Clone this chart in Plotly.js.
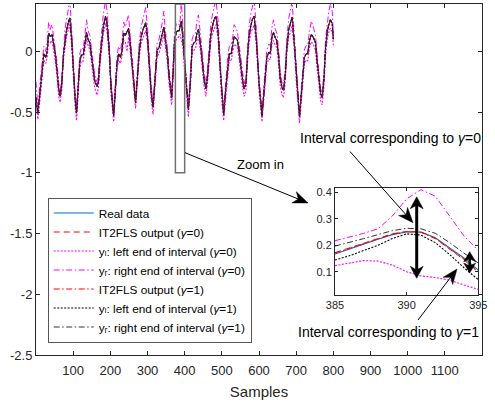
<!DOCTYPE html>
<html><head><meta charset="utf-8">
<script src="https://cdn.plot.ly/plotly-3.0.1.min.js"></script>
<style>html,body{margin:0;padding:0;background:#fff}#chart{width:495px;height:403px}</style>
</head><body><div id="chart"></div><script>
// ---- main view data (sample index) ----
const samples = [0,5,12,17,21,26,30,34,38,43,47,52,57,61,65,69,74,78,82,87,91,96,100,105,109,114,118,122,127,131,136,140,145,149,154,158,164,168,172,177,181,187,191,197,202,209,214,218,222,227,231,236,240,245,249,252,257,262,268,272,278,283,288,295,300,305,310,315,321,326,331,335,340,344,348,354,358,365,369,373,378,382,385,388,390,391,393,395,400,405,410,416,420,425,429,433,437,443,447,452,457,461,466,470,475,479,484,490,495,500,505,511,516,520,525,530,533,537,542,546,551,556,560,565,569,573,578,582,587,593,600,608,615,621,626,630,635,639,644,648,653,657,662,666,671,675,680,685,689,695,701,705,709,716,722,727,731,736,741,747,752,756,761,766,770,775,779,784,788,792,797,800];
const realData = [-0.38,-0.51,-0.30,-0.12,-0.02,-0.05,0.00,0.15,0.12,0.14,0.08,-0.02,-0.17,-0.31,-0.37,-0.28,-0.02,0.10,0.17,0.24,0.275,0.10,-0.14,-0.38,-0.51,-0.28,-0.08,-0.03,-0.03,0.05,0.155,0.10,0.07,-0.03,-0.17,-0.24,-0.29,-0.25,-0.07,0.12,0.20,0.29,0.23,0.01,-0.30,-0.53,-0.26,-0.10,-0.02,-0.05,0.00,0.15,0.13,0.17,0.19,0.11,-0.03,-0.22,-0.42,-0.24,0.01,0.12,0.18,0.235,0.12,-0.12,-0.34,-0.46,-0.17,0.01,0.03,0.08,0.14,0.20,0.10,-0.04,-0.21,-0.38,-0.17,0.10,0.16,0.17,0.167,0.223,0.25,0.25,0.19,0.106,-0.10,-0.32,-0.48,-0.21,0.04,0.07,0.08,0.15,0.18,0.05,-0.08,-0.22,-0.31,-0.22,-0.03,0.13,0.21,0.26,0.29,0.16,-0.11,-0.36,-0.52,-0.29,-0.10,-0.02,-0.02,0.06,0.12,0.11,0.09,0.01,-0.13,-0.24,-0.31,-0.26,-0.04,0.12,0.21,0.26,0.29,0.10,-0.26,-0.53,-0.27,-0.05,-0.01,-0.02,0.12,0.155,0.11,0.09,-0.05,-0.22,-0.30,-0.32,-0.18,0.04,0.18,0.23,0.28,0.07,-0.23,-0.43,-0.54,-0.27,-0.05,-0.02,-0.02,0.09,0.14,0.11,0.07,-0.07,-0.24,-0.35,-0.38,-0.22,0.03,0.17,0.22,0.26,0.23,0.10];
const yrGamma0 = [-0.25,-0.45,-0.22,-0.06,0.04,0.00,0.08,0.24,0.18,0.22,0.14,0.04,-0.10,-0.26,-0.33,-0.22,0.04,0.18,0.26,0.34,0.42,0.18,-0.08,-0.33,-0.46,-0.22,-0.02,0.03,0.02,0.12,0.26,0.17,0.13,0.03,-0.11,-0.19,-0.25,-0.19,0.00,0.20,0.30,0.42,0.34,0.08,-0.25,-0.48,-0.20,-0.04,0.04,0.01,0.07,0.24,0.20,0.25,0.30,0.18,0.03,-0.16,-0.38,-0.18,0.08,0.20,0.27,0.36,0.20,-0.06,-0.29,-0.42,-0.11,0.07,0.10,0.16,0.24,0.33,0.17,0.02,-0.15,-0.34,-0.11,0.17,0.23,0.22,0.217,0.262,0.375,0.41,0.31,0.18,-0.04,-0.27,-0.44,-0.15,0.10,0.14,0.15,0.25,0.30,0.12,-0.02,-0.16,-0.27,-0.16,0.04,0.21,0.31,0.38,0.43,0.25,-0.05,-0.31,-0.47,-0.23,-0.04,0.04,0.05,0.13,0.22,0.20,0.16,0.07,-0.07,-0.19,-0.27,-0.20,0.03,0.20,0.31,0.38,0.43,0.18,-0.21,-0.48,-0.21,0.01,0.06,0.05,0.20,0.26,0.18,0.15,0.01,-0.16,-0.26,-0.28,-0.12,0.11,0.27,0.34,0.41,0.14,-0.18,-0.38,-0.49,-0.21,0.01,0.05,0.05,0.17,0.25,0.19,0.13,-0.01,-0.18,-0.31,-0.34,-0.16,0.10,0.26,0.33,0.39,0.33,0.16];
const ylGamma0 = [-0.42,-0.56,-0.36,-0.17,-0.07,-0.10,-0.05,0.08,0.07,0.09,0.02,-0.08,-0.23,-0.37,-0.42,-0.33,-0.07,0.05,0.12,0.18,0.22,0.04,-0.20,-0.44,-0.57,-0.34,-0.14,-0.08,-0.08,0.00,0.10,0.05,0.01,-0.09,-0.23,-0.30,-0.36,-0.30,-0.12,0.06,0.14,0.23,0.17,-0.05,-0.36,-0.58,-0.32,-0.15,-0.07,-0.10,-0.05,0.09,0.08,0.00,0.12,0.05,-0.09,-0.28,-0.47,-0.30,-0.05,0.07,0.12,0.17,0.06,-0.18,-0.40,-0.52,-0.23,-0.04,-0.02,0.03,0.08,0.14,0.04,-0.10,-0.27,-0.44,-0.23,0.04,0.10,0.11,0.123,0.14,0.10,0.084,0.068,0.033,-0.17,-0.38,-0.54,-0.27,-0.02,0.01,0.02,0.09,0.12,-0.01,-0.14,-0.28,-0.37,-0.28,-0.09,0.07,0.15,0.19,0.22,0.10,-0.17,-0.42,-0.57,-0.35,-0.16,-0.07,-0.08,0.00,0.06,0.05,0.03,-0.05,-0.19,-0.30,-0.37,-0.32,-0.10,0.06,0.15,0.19,0.22,0.04,-0.32,-0.58,-0.33,-0.11,-0.06,-0.07,0.06,0.09,0.05,0.03,-0.11,-0.28,-0.36,-0.38,-0.24,-0.02,0.12,0.16,0.21,0.01,-0.29,-0.49,-0.59,-0.33,-0.11,-0.07,-0.08,0.03,0.08,0.05,0.01,-0.13,-0.30,-0.41,-0.44,-0.28,-0.03,0.11,0.16,0.19,0.16,0.05];

// ---- zoomed view data (samples 385..395) ----
const zoomSamples = [385,386,387,388,389,390,391,392,393,394,395];
const zoomReal = [0.167,0.186,0.205,0.223,0.240,0.250,0.250,0.228,0.190,0.152,0.106];
const zoomOut0 = [0.172,0.190,0.208,0.226,0.243,0.252,0.250,0.226,0.186,0.145,0.098];
const zoomYl0  = [0.123,0.133,0.142,0.140,0.125,0.100,0.084,0.078,0.068,0.050,0.033];
const zoomYr0  = [0.217,0.230,0.245,0.262,0.310,0.375,0.410,0.385,0.310,0.235,0.180];
const zoomOut1 = [0.170,0.188,0.207,0.225,0.242,0.251,0.249,0.225,0.187,0.148,0.100];
const zoomYl1  = [0.144,0.160,0.180,0.200,0.225,0.243,0.238,0.210,0.165,0.115,0.070];
const zoomYr1  = [0.197,0.210,0.225,0.240,0.255,0.264,0.262,0.245,0.210,0.170,0.133];

// ---- ticks & labels ----
const xTicks = [100,200,300,400,500,600,700,800,900,1000,1100,1200];
const yTicks = [-2.5,-2,-1.5,-1,-0.5,0];
const yTickText = ['-2.5','-2','-1.5','-1','-0.5','0'];
const zoomXTicks = [385,390,395];
const zoomYTicks = [0.1,0.2,0.3,0.4];
const G = '<i>γ</i>';
const seriesNames = [
  'Real data',
  'IT2FLS output (' + G + '=0)',
  'yₗ: left end of interval (' + G + '=0)',
  'yᵣ: right end of interval (' + G + '=0)',
  'IT2FLS output (' + G + '=1)',
  'yₗ: left end of interval (' + G + '=1)',
  'yᵣ: right end of interval (' + G + '=1)'
];

const DD = '6px,2.5px,1.5px,2.5px';
const styles = [
  {color:'#0072BD', width:1.1, dash:'solid'},
  {color:'#FF0000', width:1, dash:'6px,4px'},
  {color:'#FF00FF', width:1.1, dash:'2px,1.5px'},
  {color:'#FF00FF', width:1, dash:DD},
  {color:'#FF0000', width:1, dash:DD},
  {color:'#000000', width:1.1, dash:'2px,1.5px'},
  {color:'#333333', width:1, dash:DD}
];
const mainY = [realData, realData, ylGamma0, yrGamma0, realData, realData, realData];
const zoomY = [zoomReal, zoomOut0, zoomYl0, zoomYr0, zoomOut1, zoomYl1, zoomYr1];

const traces = [];
for (let i = 0; i < 7; i++) {
  traces.push({x: samples, y: mainY[i], type:'scatter', mode:'lines', name: seriesNames[i],
    line: styles[i], xaxis:'x', yaxis:'y', showlegend:true});
}
for (let i = 0; i < 7; i++) {
  traces.push({x: zoomSamples, y: zoomY[i], type:'scatter', mode:'lines', name: seriesNames[i],
    line: styles[i], xaxis:'x2', yaxis:'y2', showlegend:false});
}

const FONT = 'Liberation Sans, DejaVu Sans, Arial, sans-serif';
const AX = '#262626';
const H = 351; // plot height in px, for paper conversions
function px(xp){ return (xp-36)/446; }
function py(yp){ return (355-yp)/H; }

// arrow helpers (pixel positions -> paper path)
function headPath(tx, ty, fx, fy, L, W) {
  const d = Math.hypot(tx-fx, ty-fy), ux = (tx-fx)/d, uy = (ty-fy)/d;
  const nx = -uy, ny = ux;
  const b1 = [tx - L*ux + W/2*nx, ty - L*uy + W/2*ny];
  const b2 = [tx - L*ux - W/2*nx, ty - L*uy - W/2*ny];
  const nt = [tx - 0.7*L*ux, ty - 0.7*L*uy];
  const P = p => px(p[0]).toFixed(5) + ',' + py(p[1]).toFixed(5);
  return {type:'path', xref:'paper', yref:'paper', layer:'above',
    path:'M' + P([tx,ty]) + ' L' + P(b1) + ' L' + P(nt) + ' L' + P(b2) + ' Z',
    fillcolor:'#000', line:{color:'#000', width:0.5}};
}
function lineShape(x0, y0, x1, y1, w) {
  return {type:'line', xref:'paper', yref:'paper', layer:'above',
    x0:px(x0), y0:py(y0), x1:px(x1), y1:py(y1), line:{color:'#000', width:w}};
}
function arrow(fx, fy, tx, ty, L, W, w) {
  const d = Math.hypot(tx-fx, ty-fy), ux = (tx-fx)/d, uy = (ty-fy)/d;
  return [lineShape(fx, fy, tx - 0.6*L*ux, ty - 0.6*L*uy, w), headPath(tx, ty, fx, fy, L, W)];
}
function dblArrow(x, y0, y1, L, W, w) {
  return [lineShape(x, y0 + 0.6*L, x, y1 - 0.6*L, w), headPath(x, y0, x, y1, L, W), headPath(x, y1, x, y0, L, W)];
}

const shapes = [
  {type:'rect', xref:'x', yref:'y', x0:375, x1:400, y0:-1, y1:0.39,
    line:{color:'#707070', width:1.5}, fillcolor:'rgba(0,0,0,0)', layer:'above'}
].concat(
  arrow(185, 152.7, 308, 203, 15, 12, 1),
  arrow(350, 151.5, 413, 222.7, 15, 12, 1),
  arrow(418, 320, 457, 269, 15, 12, 1),
  dblArrow(416.7, 196.8, 278.3, 12, 13, 3),
  dblArrow(469.7, 251.7, 273, 10, 12, 2.5)
);

const layout = {
  width:495, height:403,
  margin:{l:36, r:13, t:4, b:48},
  paper_bgcolor:'#fff', plot_bgcolor:'#fff',
  font:{family:FONT, size:13, color:AX},
  showlegend:true,
  xaxis:{domain:[0,1], range:[0,1200], tickmode:'array', tickvals:xTicks,
    ticks:'inside', ticklen:4, tickcolor:AX, showline:true, linecolor:AX, linewidth:1, mirror:'ticks',
    showgrid:false, zeroline:false, tickfont:{size:13, color:AX}, ticklabelstandoff:3,
    title:{text:'Samples', font:{size:15, color:AX}, standoff:9}},
  yaxis:{domain:[0,1], range:[-2.5,0.39], tickmode:'array', tickvals:yTicks, ticktext:yTickText,
    ticks:'inside', ticklen:4, tickcolor:AX, showline:true, linecolor:AX, linewidth:1, mirror:'ticks',
    showgrid:false, zeroline:false, tickfont:{size:13, color:AX}},
  xaxis2:{domain:[0.6704,0.9917], anchor:'y2', range:[385,395], tickmode:'array', tickvals:zoomXTicks,
    ticks:'inside', ticklen:3, tickcolor:AX, showline:true, linecolor:AX, linewidth:1, mirror:'ticks',
    showgrid:false, zeroline:false, tickfont:{size:11, color:AX}},
  yaxis2:{domain:[0.1709,0.4749], anchor:'x2', range:[0.012,0.415], tickmode:'array', tickvals:zoomYTicks,
    ticks:'inside', ticklen:3, tickcolor:AX, showline:true, linecolor:AX, linewidth:1, mirror:'ticks',
    showgrid:false, zeroline:false, tickfont:{size:11, color:AX}},
  legend:{x:px(47.7), y:py(197.5), xanchor:'left', yanchor:'top', bgcolor:'#fff',
    bordercolor:'#555', borderwidth:1, font:{size:11.8, color:'#000'}, itemwidth:40, tracegroupgap:0},
  shapes: shapes,
  annotations:[
    {xref:'paper', yref:'paper', x:px(260), y:py(164.5), text:'Zoom in', showarrow:false,
      font:{size:13, color:'#000'}, xanchor:'center', yanchor:'middle'},
    {xref:'paper', yref:'paper', x:px(390), y:py(137.5), text:'Interval corresponding to ' + G + '=0', showarrow:false,
      font:{size:14, color:'#000'}, xanchor:'center', yanchor:'middle'},
    {xref:'paper', yref:'paper', x:px(388), y:py(332), text:'Interval corresponding to ' + G + '=1', showarrow:false,
      font:{size:14, color:'#000'}, xanchor:'center', yanchor:'middle'}
  ]
};

Plotly.newPlot('chart', traces, layout, {staticPlot:true, displayModeBar:false});
</script></body></html>
